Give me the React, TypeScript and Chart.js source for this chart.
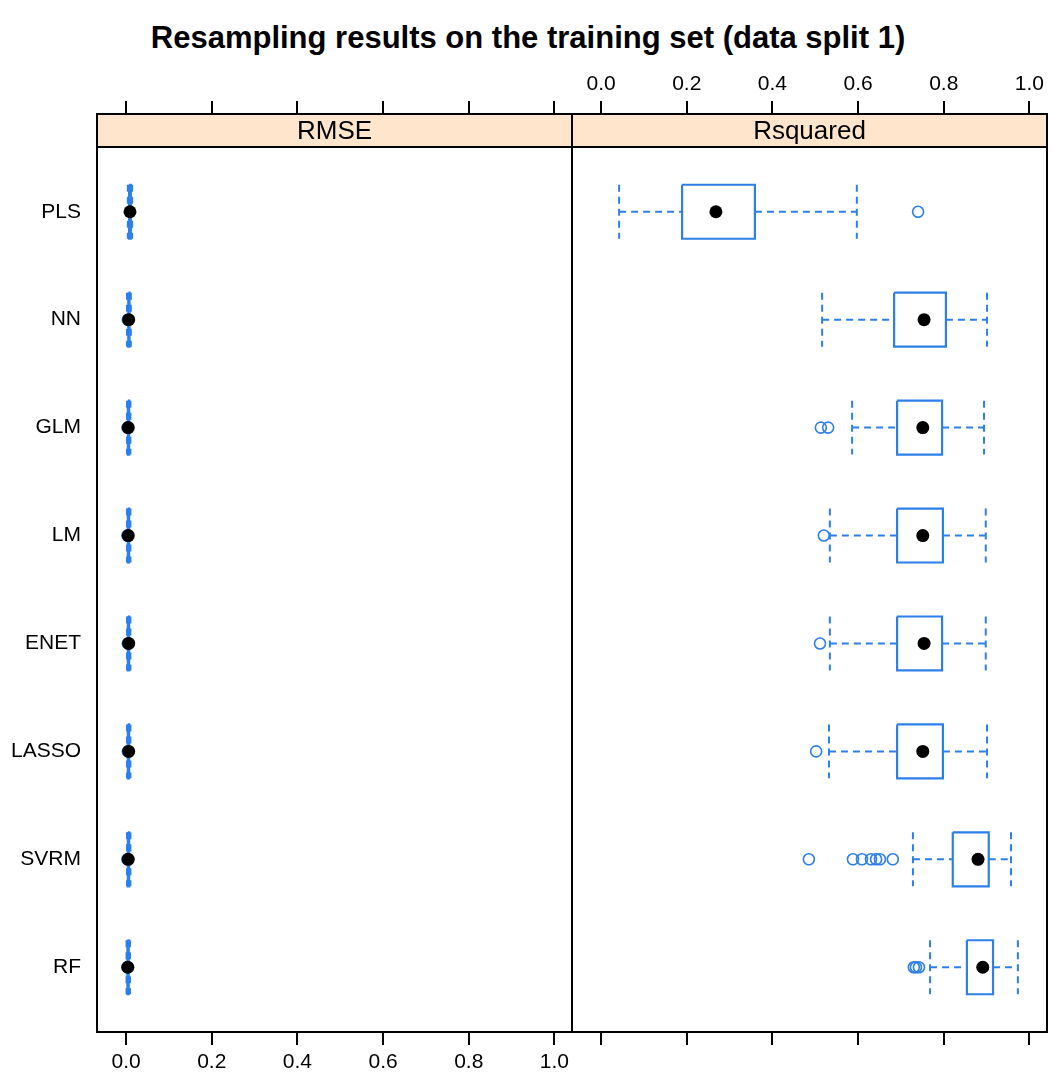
import React, { useEffect, useRef } from "react";
import { Chart, registerables } from "chart.js";

Chart.register(...registerables);

// ---------- data ----------
const TITLE = "Resampling results on the training set (data split 1)";
const MODELS = ["PLS", "NN", "GLM", "LM", "ENET", "LASSO", "SVRM", "RF"];
const X_TICKS = [0, 0.2, 0.4, 0.6, 0.8, 1.0];
const X_MIN = -0.068;
const X_MAX = 1.041;
const Y_MIN = 0.4;
const Y_MAX = 8.6;

// RMSE panel
const RMSE_LOWER = [0.004, 0.002, 0.002, 0.002, 0.002, 0.002, 0.002, 0.001];
const RMSE_Q1 = [0.007, 0.005, 0.004, 0.004, 0.004, 0.004, 0.004, 0.003];
const RMSE_MEDIAN = [0.009, 0.006, 0.005, 0.005, 0.006, 0.006, 0.005, 0.004];
const RMSE_Q3 = [0.011, 0.008, 0.007, 0.007, 0.007, 0.007, 0.007, 0.006];
const RMSE_UPPER = [0.014, 0.011, 0.010, 0.010, 0.010, 0.010, 0.010, 0.009];
const RMSE_OUTLIERS = [[], [0.004], [0.003], [0.003], [0.004], [0.004], [0.003], [0.003]];

// Rsquared panel
const RSQ_LOWER = [0.042, 0.516, 0.586, 0.534, 0.534, 0.532, 0.728, 0.768];
const RSQ_Q1 = [0.189, 0.684, 0.691, 0.691, 0.691, 0.691, 0.821, 0.854];
const RSQ_MEDIAN = [0.268, 0.754, 0.751, 0.751, 0.754, 0.751, 0.880, 0.891];
const RSQ_Q3 = [0.359, 0.805, 0.796, 0.798, 0.796, 0.798, 0.905, 0.915];
const RSQ_UPPER = [0.597, 0.901, 0.894, 0.898, 0.898, 0.901, 0.957, 0.973];
const RSQ_OUTLIERS = [
  [0.74],
  [],
  [0.513, 0.53],
  [0.52],
  [0.511],
  [0.502],
  [0.485, 0.588, 0.609, 0.63, 0.642, 0.651, 0.681],
  [0.73, 0.735, 0.742],
];

// ---------- style / layout ----------
const FONT = "'Liberation Sans', Arial, Helvetica, sans-serif";
const BLUE = "#2d7fe9";
const STRIP_FILL = "#ffe5cc";
const BOX_HALF = 0.25;
const STRIP_H = 33;
const TICK_LEN = 13;
const W = 1054;
const H = 1083;
const PANEL_TOP = 147;
const PANEL_BOTTOM = 1032;
const LEFT_AXIS_W = 97;
const SPLIT_X = 572;
const RIGHT_EDGE = 1047;
const LEFT_PAD_R = 8;

type Stats = {
  lower: number[];
  q1: number[];
  median: number[];
  q3: number[];
  upper: number[];
  outliers: number[][];
};

function gap() {
  return { x: null, y: null };
}

function buildDatasets(s: Stats) {
  const box: any[] = [];
  const whisk: any[] = [];
  const outs: any[] = [];
  const meds: any[] = [];
  MODELS.forEach((_, k) => {
    const y = k + 1;
    const a = y - BOX_HALF;
    const b = y + BOX_HALF;
    box.push(
      { x: s.q1[k], y: a },
      { x: s.q3[k], y: a },
      { x: s.q3[k], y: b },
      { x: s.q1[k], y: b },
      { x: s.q1[k], y: a },
      gap()
    );
    whisk.push(
      { x: s.lower[k], y },
      { x: s.q1[k], y },
      gap(),
      { x: s.q3[k], y },
      { x: s.upper[k], y },
      gap(),
      { x: s.lower[k], y: a },
      { x: s.lower[k], y: b },
      gap(),
      { x: s.upper[k], y: a },
      { x: s.upper[k], y: b },
      gap()
    );
    s.outliers[k].forEach((v) => outs.push({ x: v, y }));
    meds.push({ x: s.median[k], y });
  });
  return [
    {
      label: "median",
      data: meds,
      order: 0,
      showLine: false,
      pointRadius: 6.5,
      pointBackgroundColor: "#000",
      pointBorderColor: "#000",
      pointBorderWidth: 0,
    },
    {
      label: "outliers",
      data: outs,
      order: 1,
      showLine: false,
      pointRadius: 5.5,
      pointBackgroundColor: "rgba(0,0,0,0)",
      pointBorderColor: BLUE,
      pointBorderWidth: 1.6,
    },
    {
      label: "whiskers",
      data: whisk,
      order: 2,
      showLine: true,
      spanGaps: false,
      borderColor: BLUE,
      borderWidth: 2,
      borderDash: [7, 5],
      borderCapStyle: "butt",
      pointRadius: 0,
      tension: 0,
      fill: false,
    },
    {
      label: "boxes",
      data: box,
      order: 3,
      showLine: true,
      spanGaps: false,
      borderColor: BLUE,
      borderWidth: 2.2,
      borderJoinStyle: "miter",
      pointRadius: 0,
      tension: 0,
      fill: false,
    },
  ];
}

const panelPlugin = {
  id: "panelFrame",
  afterDraw(chart: any, _args: any, opts: any) {
    const { ctx, chartArea } = chart;
    const { left, top, right, bottom } = chartArea;
    ctx.save();
    ctx.fillStyle = STRIP_FILL;
    ctx.fillRect(left, top - STRIP_H, right - left, STRIP_H);
    ctx.lineWidth = 2;
    ctx.strokeStyle = "#000";
    ctx.strokeRect(left, top - STRIP_H, right - left, STRIP_H);
    ctx.strokeRect(left, top, right - left, bottom - top);
    ctx.fillStyle = "#000";
    ctx.font = `26px ${FONT}`;
    ctx.textAlign = "center";
    ctx.textBaseline = "middle";
    ctx.fillText(opts.label, (left + right) / 2, top - STRIP_H / 2 + 1);
    ctx.restore();
  },
};

function xAxis(position: "top" | "bottom", showLabels: boolean) {
  const isTop = position === "top";
  return {
    type: "linear",
    position,
    min: X_MIN,
    max: X_MAX,
    afterBuildTicks: (ax: any) => {
      ax.ticks = X_TICKS.map((v) => ({ value: v }));
    },
    afterFit: (ax: any) => {
      ax.height = isTop ? PANEL_TOP : H - PANEL_BOTTOM;
    },
    ticks: {
      display: showLabels,
      padding: isTop ? 4 : 5,
      maxRotation: 0,
      autoSkip: false,
      color: "#000",
      font: { size: 21, family: FONT },
      callback: (v: any) => Number(v).toFixed(1),
    },
    grid: {
      drawOnChartArea: false,
      drawTicks: true,
      tickLength: isTop ? TICK_LEN + STRIP_H : TICK_LEN,
      color: "#000",
      lineWidth: 2,
    },
    border: { display: false },
  };
}

function makeConfig(stats: Stats, label: string, side: "left" | "right") {
  const isLeft = side === "left";
  return {
    type: "scatter",
    data: { datasets: buildDatasets(stats) },
    options: {
      responsive: false,
      animation: false,
      devicePixelRatio: 1,
      events: [],
      layout: {
        autoPadding: false,
        padding: isLeft
          ? { left: 0, right: LEFT_PAD_R, top: 0, bottom: 0 }
          : { left: 1, right: W - RIGHT_EDGE, top: 0, bottom: 0 },
      },
      plugins: {
        legend: { display: false },
        tooltip: { enabled: false },
        title: { display: false },
        panelFrame: { label },
      },
      scales: {
        x: xAxis("bottom", isLeft),
        x2: xAxis("top", !isLeft),
        y: {
          type: "linear",
          display: isLeft,
          position: "left",
          reverse: true,
          min: Y_MIN,
          max: Y_MAX,
          afterBuildTicks: (ax: any) => {
            ax.ticks = MODELS.map((_, i) => ({ value: i + 1 }));
          },
          afterFit: (ax: any) => {
            ax.width = isLeft ? LEFT_AXIS_W : 0;
          },
          ticks: {
            padding: 16,
            color: "#000",
            autoSkip: false,
            font: { size: 21, family: FONT },
            callback: (v: any) => MODELS[Math.round(Number(v)) - 1] ?? "",
          },
          grid: { display: false, drawTicks: false },
          border: { display: false },
        },
      },
    },
    plugins: [panelPlugin],
  };
}

export default function App() {
  const leftRef = useRef<HTMLCanvasElement | null>(null);
  const rightRef = useRef<HTMLCanvasElement | null>(null);

  useEffect(() => {
    const rmse: Stats = {
      lower: RMSE_LOWER,
      q1: RMSE_Q1,
      median: RMSE_MEDIAN,
      q3: RMSE_Q3,
      upper: RMSE_UPPER,
      outliers: RMSE_OUTLIERS,
    };
    const rsq: Stats = {
      lower: RSQ_LOWER,
      q1: RSQ_Q1,
      median: RSQ_MEDIAN,
      q3: RSQ_Q3,
      upper: RSQ_UPPER,
      outliers: RSQ_OUTLIERS,
    };
    const c1 = new Chart(leftRef.current as any, makeConfig(rmse, "RMSE", "left") as any);
    const c2 = new Chart(rightRef.current as any, makeConfig(rsq, "Rsquared", "right") as any);
    return () => {
      c1.destroy();
      c2.destroy();
    };
  }, []);

  const leftW = SPLIT_X + LEFT_PAD_R;
  const rightX = SPLIT_X - 1;
  const rightW = W - rightX;

  return (
    <div
      style={{
        position: "absolute",
        left: 0,
        top: 0,
        width: W,
        height: H,
        background: "#fff",
        overflow: "hidden",
      }}
    >
      <div
        style={{
          position: "absolute",
          left: 2,
          top: 22,
          width: W - 2,
          textAlign: "center",
          fontFamily: FONT,
          fontWeight: "bold",
          fontSize: 31,
          lineHeight: "31px",
          color: "#000",
          whiteSpace: "nowrap",
        }}
      >
        {TITLE}
      </div>
      <canvas
        ref={leftRef}
        width={leftW}
        height={H}
        style={{ position: "absolute", left: 0, top: 0, width: leftW, height: H }}
      />
      <canvas
        ref={rightRef}
        width={rightW}
        height={H}
        style={{ position: "absolute", left: rightX, top: 0, width: rightW, height: H }}
      />
    </div>
  );
}
